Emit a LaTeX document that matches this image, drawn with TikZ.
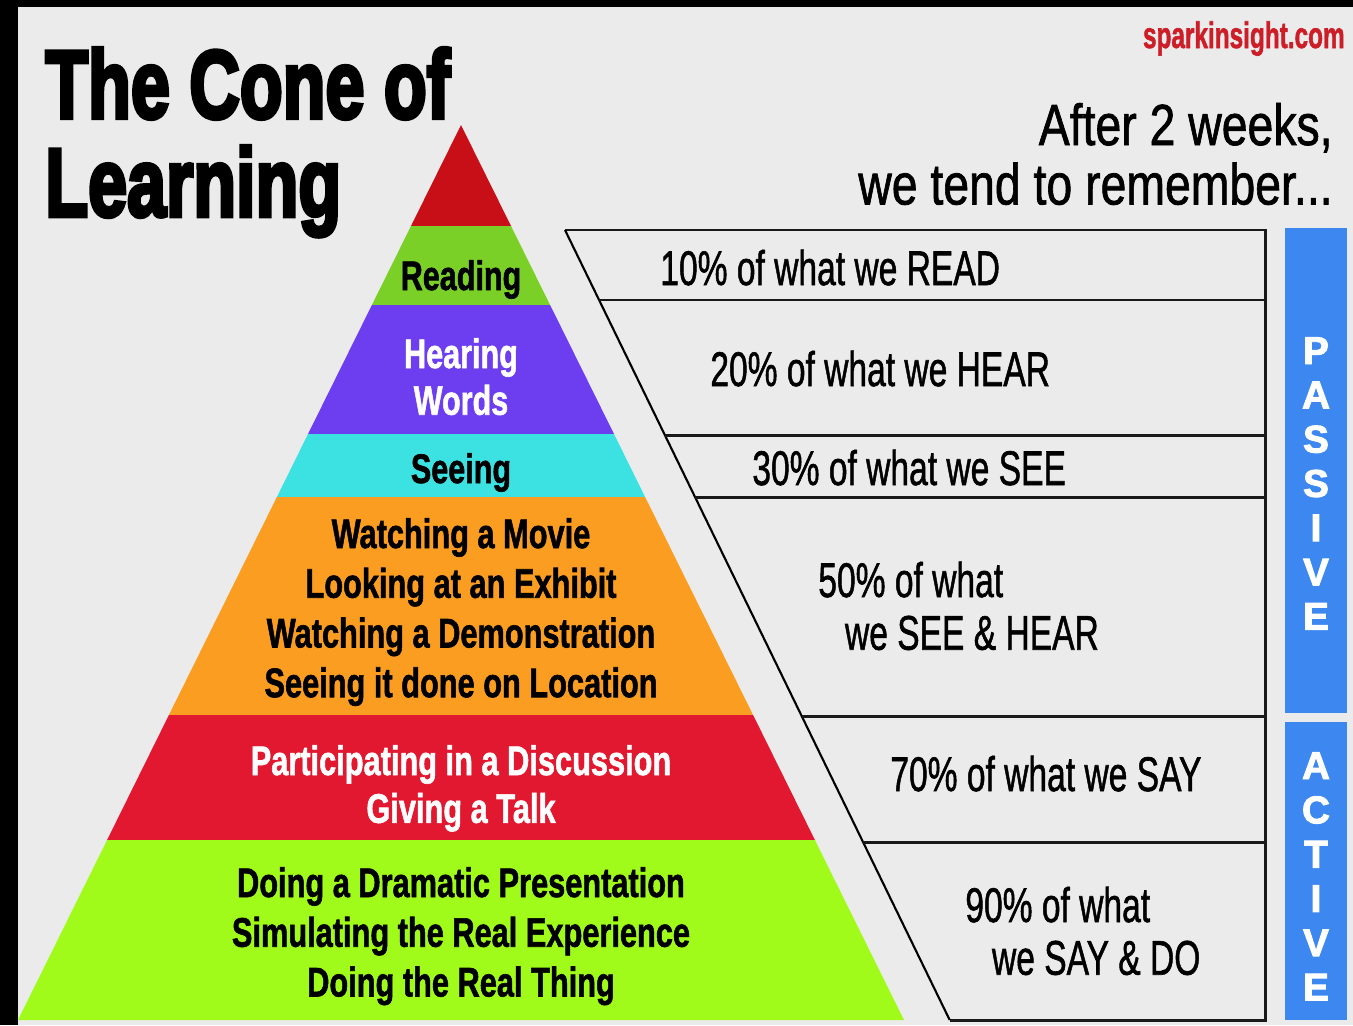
\documentclass[tikz,border=0pt]{standalone}
\usepackage{fontspec}
\usepackage{graphicx}
\setmainfont{Liberation Sans}
\newfontfamily\heavyfont{Liberation Sans}[BoldFeatures={FakeBold=4.5}]
\newfontfamily\barfont{Liberation Sans}[BoldFeatures={FakeBold=2.5}]
\newfontfamily\lblfont{Liberation Sans}[BoldFeatures={FakeBold=1.6}]
\newfontfamily\medfont{Liberation Sans}[FakeBold=1.3]
\definecolor{bg}{RGB}{235,235,235}
\definecolor{cred}{RGB}{200,14,22}
\definecolor{cgreenA}{RGB}{122,208,38}
\definecolor{cpurple}{RGB}{108,62,240}
\definecolor{ccyan}{RGB}{60,226,226}
\definecolor{corange}{RGB}{250,157,32}
\definecolor{cred2}{RGB}{226,24,48}
\definecolor{cgreenB}{RGB}{160,250,26}
\definecolor{cblue}{RGB}{60,136,240}
\definecolor{cweb}{RGB}{205,30,40}
\newcommand\sxc[2]{\scalebox{#1}[1]{\begin{tabular}[t]{@{}c@{}}#2\end{tabular}}}
\newcommand\sxl[2]{\scalebox{#1}[1]{\begin{tabular}[t]{@{}l@{}}#2\end{tabular}}}
\newcommand\sxr[2]{\scalebox{#1}[1]{\begin{tabular}[t]{@{}r@{}}#2\end{tabular}}}
\tikzset{
  lbl/.style={inner sep=0pt, anchor=base},
  lblw/.style={inner sep=0pt, anchor=base west},
  pyr/.style={lbl, font=\lblfont\bfseries\fontsize{23.5}{28.3}\selectfont},
  tbltext/.style={lblw, font=\medfont\fontsize{27.7}{30}\selectfont},
  tblline/.style={line width=1.7pt, draw=black!90},
  diagline/.style={line width=1.2pt, draw=black},
  bar/.style={fill=cblue},
  barletters/.style={lbl, text=white, font=\barfont\bfseries\fontsize{22}{25.2}\selectfont},
}
\begin{document}
\begin{tikzpicture}[x=0.02cm, y=-0.02cm]
% frame and background
\fill[black] (0,0) rectangle (1353,1025);
\fill[bg] (18,7) rectangle (1353,1025);
\useasboundingbox (0,0) rectangle (1353,1025);

% pyramid bands
\fill[cred]    (461,125) -- (511,226) -- (411,226) -- cycle;
\fill[cgreenA] (411,226) -- (511,226) -- (550.1,305) -- (371.9,305) -- cycle;
\fill[cpurple] (371.9,305) -- (550.1,305) -- (614,434) -- (308,434) -- cycle;
\fill[ccyan]   (308,434) -- (614,434) -- (645.1,497) -- (276.9,497) -- cycle;
\fill[corange] (276.9,497) -- (645.1,497) -- (753.1,715) -- (168.9,715) -- cycle;
\fill[cred2]   (168.9,715) -- (753.1,715) -- (814.9,840) -- (107.1,840) -- cycle;
\fill[cgreenB] (107.1,840) -- (814.9,840) -- (904,1020) -- (18,1020) -- cycle;

% pyramid labels
\node[pyr] (reading) at (461,290) {\sxc{0.74}{Reading}};
\node[pyr, text=white, font=\lblfont\bfseries\fontsize{23.5}{26.6}\selectfont] (hearing) at (461,368) {\sxc{0.74}{Hearing\\Words}};
\node[pyr] (seeing) at (461,483) {\sxc{0.74}{Seeing}};
\node[pyr] (watching) at (461,548) {\sxc{0.745}{Watching a Movie\\Looking at an Exhibit\\Watching a Demonstration\\Seeing it done on Location}};
\node[pyr, text=white, font=\lblfont\bfseries\fontsize{23.5}{27.2}\selectfont] (participating) at (461,775) {\sxc{0.745}{Participating in a Discussion\\Giving a Talk}};
\node[pyr] (doing) at (461,897) {\sxc{0.745}{Doing a Dramatic Presentation\\Simulating the Real Experience\\Doing the Real Thing}};

% table
\coordinate (t0) at (565,230);
\coordinate (tR0) at (1265,230);
\coordinate (tR1) at (1265,1020);
\coordinate (t6) at (949.7,1020);
\coordinate (d1) at (599.1,300);
\coordinate (d2) at (664.8,435);
\coordinate (d3) at (695,497);
\coordinate (d4) at (801.7,716);
\coordinate (d5) at (863,842);
\draw[tblline] (t0) -- (tR0) -- (tR1) -- (t6);
\draw[diagline] (t0) -- (t6);
\draw[tblline] (d1) -- (d1 -| tR0);
\draw[tblline] (d2) -- (d2 -| tR0);
\draw[tblline] (d3) -- (d3 -| tR0);
\draw[tblline] (d4) -- (d4 -| tR0);
\draw[tblline] (d5) -- (d5 -| tR0);

% table texts
\node[tbltext] (p10) at (660,285) {\sxl{0.69}{10\% of what we READ}};
\node[tbltext] (p20) at (710,386) {\sxl{0.69}{20\% of what we HEAR}};
\node[tbltext] (p30) at (752,485) {\sxl{0.69}{30\% of what we SEE}};
\node[tbltext] (p50) at (818,597) {\sxl{0.69}{50\% of what\\\hspace*{22pt}we SEE \& HEAR}};
\node[tbltext] (p70) at (890,791) {\sxl{0.69}{70\% of what we SAY}};
\node[tbltext] (p90) at (965,922) {\sxl{0.69}{90\% of what\\\hspace*{22pt}we SAY \& DO}};

% side bars
\fill[bar] (1285,228) rectangle (1347,713);
\fill[bar] (1285,722) rectangle (1347,1020);
\node[barletters] (passive) at (1316,364) {\begin{tabular}[t]{@{}c@{}}P\\A\\S\\S\\I\\V\\E\end{tabular}};
\node[barletters] (active) at (1316,779) {\begin{tabular}[t]{@{}c@{}}A\\C\\T\\I\\V\\E\end{tabular}};

% titles
\node[lblw, font=\heavyfont\bfseries\fontsize{55}{53.3}\selectfont] (title) at (45,118) {\sxl{0.725}{The Cone of\\Learning}};
\node[inner sep=0pt, anchor=base east, text=cweb, font=\lblfont\bfseries\fontsize{21}{24}\selectfont] (web) at (1345,48) {\scalebox{0.66}[1]{sparkinsight.com}};
\node[inner sep=0pt, anchor=base east, font=\medfont\fontsize{33}{33}\selectfont] (after) at (1333,145) {\sxr{0.80}{After 2 weeks,\\we tend to remember...}};
\end{tikzpicture}
\end{document}
